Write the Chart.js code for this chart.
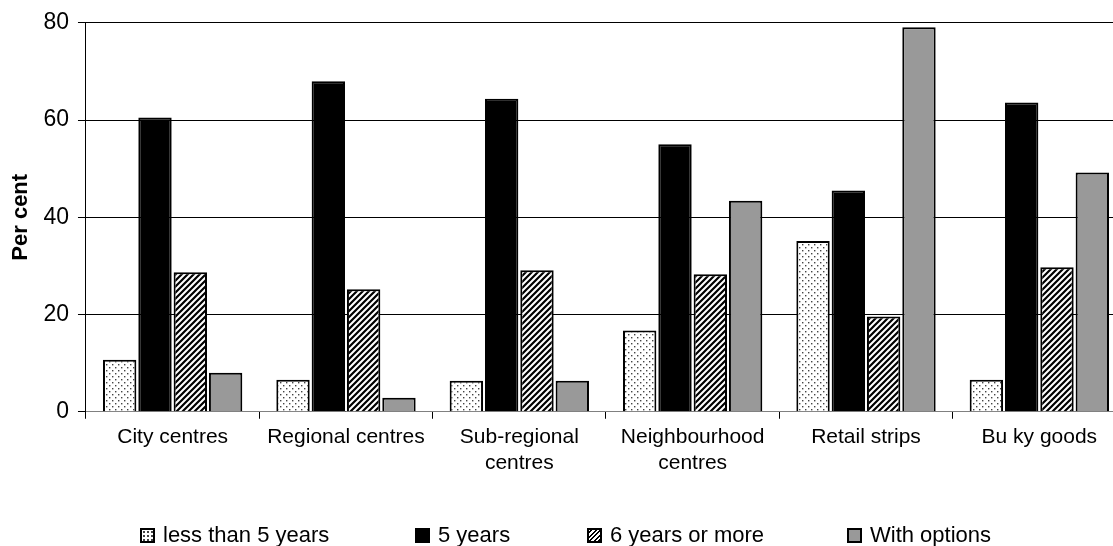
<!DOCTYPE html>
<html>
<head>
<meta charset="utf-8">
<script src="https://cdn.jsdelivr.net/npm/chart.js@4.4.1/dist/chart.umd.min.js"></script>
<style>
    html, body { margin: 0; padding: 0; background: #fff; overflow: hidden; }
    #wrap { position: relative; width: 1126px; height: 546px; }
    #legend { position: absolute; top: 523px; left: 0; width: 1113px; height: 24px;
              font-family: "Liberation Sans", Arial, sans-serif; font-size: 22px; line-height: 24px; color: #000; }
    .item { position: absolute; top: 0; display: flex; align-items: center; white-space: nowrap; }
    .box { width: 15px; height: 15px; border: 2px solid #000; margin-right: 8px; box-sizing: border-box; }
</style>
</head>
<body>
<div id="wrap">
    <canvas id="chart" width="1126" height="546"></canvas>
    <div id="legend"></div>
</div>
<script>
// Chart data
const categories = ["City centres", "Regional centres", ["Sub-regional", "centres"], ["Neighbourhood", "centres"], "Retail strips", "Bu ky goods"];
const seriesNames = ["less than 5 years", "5 years", "6 years or more", "With options"];
const lessThan5 = [10.7, 6.6, 6.4, 16.7, 35.1, 6.6];
const fiveYears = [60.5, 68.0, 64.4, 55.0, 45.5, 63.6];
const sixOrMore = [28.7, 25.2, 29.1, 28.3, 19.6, 29.7];
const withOptions = [8.0, 2.9, 6.4, 43.4, 79.1, 49.2];
const yTicks = [0, 20, 40, 60, 80];

const FONT = "'Liberation Sans', Arial, sans-serif";

// Pattern fills
function makeDots() {
    const c = document.createElement("canvas");
    c.width = 6; c.height = 6;
    const g = c.getContext("2d");
    g.fillStyle = "#fff";
    g.fillRect(0, 0, 6, 6);
    g.fillStyle = "#444";
    g.fillRect(1, 1, 1.4, 1.4);
    g.fillRect(4, 4, 1.4, 1.4);
    return g.createPattern(c, "repeat");
}

function makeHatch() {
    const c = document.createElement("canvas");
    c.width = 6; c.height = 6;
    const g = c.getContext("2d");
    g.fillStyle = "#fff";
    g.fillRect(0, 0, 6, 6);
    g.strokeStyle = "#000";
    g.lineWidth = 2.2;
    g.beginPath();
    g.moveTo(-1, 7); g.lineTo(7, -1);
    g.moveTo(-4, 4); g.lineTo(4, -4);
    g.moveTo(2, 10); g.lineTo(10, 2);
    g.stroke();
    return g.createPattern(c, "repeat");
}

const ctx = document.getElementById("chart").getContext("2d");

const fills = [makeDots(), "#000000", makeHatch(), "#999999"];
const values = [lessThan5, fiveYears, sixOrMore, withOptions];

const chart = new Chart(ctx, {
    type: "bar",
    data: {
        labels: categories,
        datasets: seriesNames.map((name, i) => ({
            label: name,
            data: values[i],
            backgroundColor: fills[i],
            borderColor: "#000",
            borderWidth: 2,
            categoryPercentage: 0.815,
            barPercentage: 0.945
        }))
    },
    options: {
        responsive: false,
        animation: false,
        layout: { padding: { top: 20, right: 0, bottom: 64, left: 0 } },
        plugins: {
            legend: { display: false },
            tooltip: { enabled: false }
        },
        scales: {
            x: {
                grid: { display: true, drawOnChartArea: false, drawTicks: true, tickLength: 7, color: "#000" },
                border: { color: "#808080", width: 1 },
                ticks: { color: "#000", font: { family: FONT, size: 21, lineHeight: 1.22 }, padding: 6, maxRotation: 0, autoSkip: false }
            },
            y: {
                min: 0,
                max: 80,
                afterBuildTicks: axis => { axis.ticks = yTicks.map(v => ({ value: v })); },
                grid: { color: "#000", lineWidth: 1, tickLength: 8 },
                border: { color: "#000", width: 1 },
                ticks: { color: "#000", font: { family: FONT, size: 23 }, padding: 9 },
                title: { display: true, text: "Per cent", color: "#000", font: { family: FONT, size: 22, weight: "bold" }, padding: { top: 8, bottom: 0 } }
            }
        }
    }
});

// Legend built as HTML so each entry can sit in its own column
const legendLeft = [140, 415, 587, 847];
const swatchCss = [
    "background: radial-gradient(circle, #444 0.8px, transparent 1px) 0 0 / 4px 4px, #fff;",
    "background: #000;",
    "background: repeating-linear-gradient(-45deg, #000 0 1.6px, #fff 1.6px 3.2px);",
    "background: #999;"
];
const legend = document.getElementById("legend");
seriesNames.forEach((name, i) => {
    const item = document.createElement("div");
    item.className = "item";
    item.style.left = legendLeft[i] + "px";
    item.innerHTML = `<span class="box" style="${swatchCss[i]}"></span><span>${name}</span>`;
    legend.appendChild(item);
});
</script>
</body>
</html>
